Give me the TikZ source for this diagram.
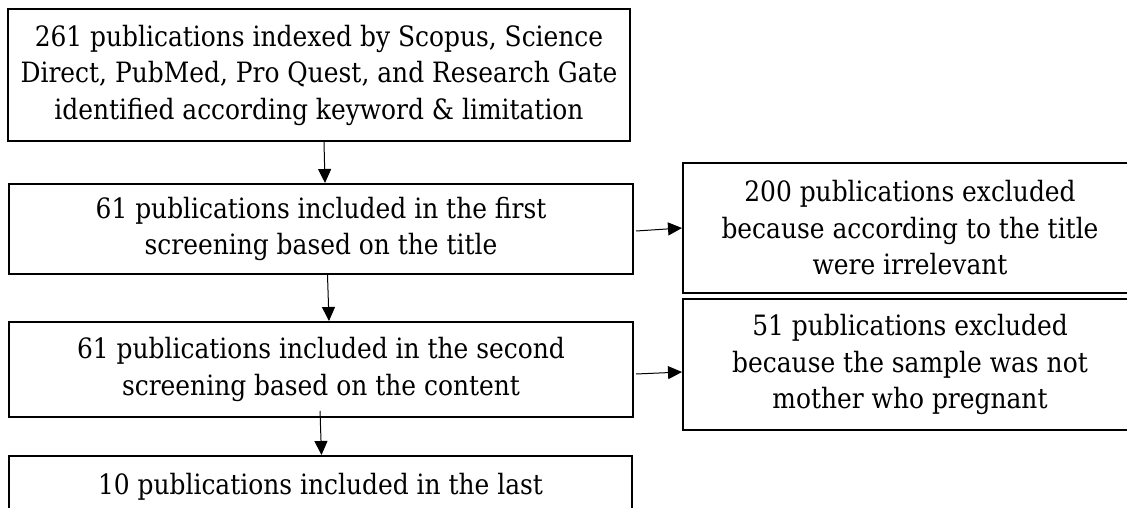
\documentclass[tikz,border=0pt]{standalone}
\usepackage{fontspec}
\setmainfont{DejaVu Serif}[FakeStretch=0.89]
\usetikzlibrary{arrows.meta}
\begin{document}
\begin{tikzpicture}[x=1pt,y=-1pt,
  box/.style={draw, line width=2pt, align=center, inner sep=0pt, font=\fontsize{28}{36.5}\selectfont},
  arr/.style={line width=1pt, -{Triangle[length=14pt,width=13pt]}}]
\useasboundingbox (0,0) rectangle (1127,508);
\clip (0,0) rectangle (1127,508);
\node[box, minimum width=622pt, minimum height=132pt] (b1) at (319,75)
  {261 publications indexed by Scopus, Science\\Direct, PubMed, Pro Quest, and Research Gate\\identified according keyword \& limitation};
\node[box, minimum width=624pt, minimum height=90pt] (b2) at (321,229)
  {61 publications included in the first\\screening based on the title};
\node[box, minimum width=624pt, minimum height=95pt] (b3) at (321,369.5)
  {61 publications included in the second\\screening based on the content};
\node[box, minimum width=623pt, minimum height=62pt] (b4) at (320.5,487)
  {10 publications included in the last};
\node[box, minimum width=454pt, minimum height=130pt] (b5) at (910,228)
  {200 publications excluded\\because according to the title\\were irrelevant};
\node[box, minimum width=454pt, minimum height=131pt] (b6) at (910,364.5)
  {51 publications excluded\\because the sample was not\\mother who pregnant};
\draw[arr] ([xshift=5pt]b1.south) -- ([xshift=4pt]b2.north);
\draw[arr] ([xshift=6.5pt]b2.south) -- ([xshift=8pt]b3.north);
\draw[arr] ([xshift=-1pt,yshift=7pt]b3.south) -- ([xshift=1pt]b4.north);
\draw[arr] ([xshift=2pt,yshift=-2pt]b2.east) -- (b5.west);
\draw[arr] ([xshift=2pt,yshift=-4.5pt]b3.east) -- ([yshift=-7.5pt]b6.west);
\end{tikzpicture}
\end{document}
